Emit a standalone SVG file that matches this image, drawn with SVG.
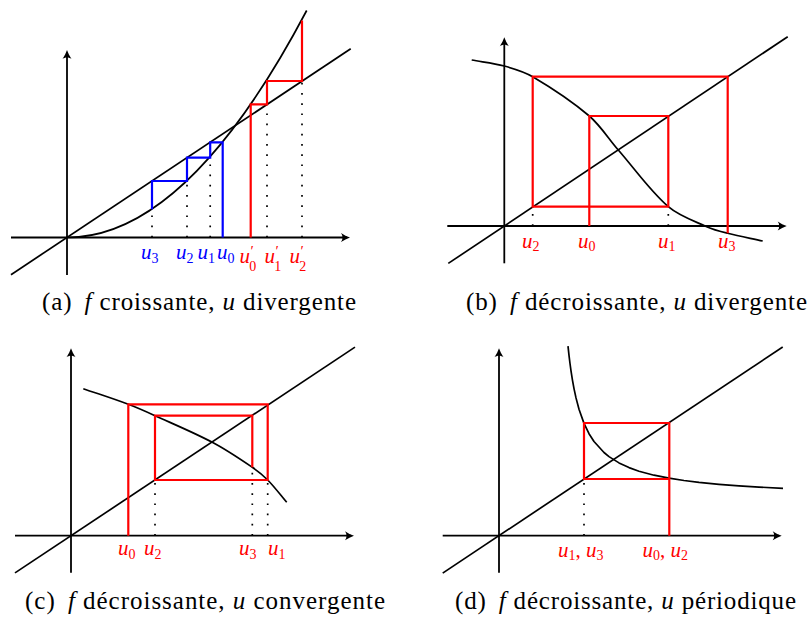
<svg xmlns="http://www.w3.org/2000/svg" width="810" height="617" viewBox="0 0 810 617">
<defs>
<marker id="arr" viewBox="-10 -5 11 10" refX="-3" refY="0" markerWidth="11" markerHeight="10" markerUnits="userSpaceOnUse" orient="auto">
<path d="M0,0 C-3,-1 -6,-2.5 -9,-4.5 C-7,-2 -7,2 -9,4.5 C-6,2.5 -3,1 0,0 Z" fill="#000"/>
</marker>
<style>
.ax{stroke:#000;stroke-width:1.8;fill:none;marker-end:url(#arr)}
.ln{stroke:#000;stroke-width:1.7;fill:none;stroke-linejoin:round}
.rd{stroke:#f00;stroke-width:2.2;fill:none;stroke-linejoin:miter}
.bl{stroke:#00f;stroke-width:2.2;fill:none;stroke-linejoin:miter}
.dot{stroke:#000;stroke-width:1.7;fill:none;stroke-dasharray:1.7 8.5}
.lab{font-family:"Liberation Serif","Times New Roman",serif;font-style:italic;font-size:21px}
.sub{font-style:normal;font-size:14px}
.pr{font-style:normal;font-size:15px}
.r{fill:#f00}
.b{fill:#00f}
.cap{font-family:"Liberation Serif","Times New Roman",serif;font-size:25px;fill:#000}
.it{font-style:italic}
</style>
</defs>

<g id="panel-a">
<path class="ax" d="M11,237.5 H347"/>
<path class="ax" d="M67,275 V53"/>
<path class="ln" d="M11,274.7 L350.7,48.8"/>
<path class="ln" d="M67,237.5 Q186.85,237.5 306.7,10.5"/>
<path class="dot" d="M152,237.5 V209.3 M187,237.5 V181 M210.2,237.5 V157.7 M267,237.5 V104.3 M302,237.5 V81"/>
<path class="bl" d="M222.7,237.5 V142.3 H210.2 V157.7 H187 V181 H152 V209.3"/>
<path class="rd" d="M250.7,237.5 V104.3 H267 V81 H302 V20.5"/>
<text class="lab b" x="141" y="259">u<tspan class="sub" dy="3.5">3</tspan></text>
<text class="lab b" x="176" y="259">u<tspan class="sub" dy="3.5">2</tspan></text>
<text class="lab b" x="197.5" y="259">u<tspan class="sub" dy="3.5">1</tspan></text>
<text class="lab b" x="217" y="259">u<tspan class="sub" dy="3.5">0</tspan></text>
<text class="lab r" x="239.5" y="263">u<tspan class="pr" dx="0.5" dy="-7">′</tspan><tspan class="sub" dx="-4.5" dy="15">0</tspan></text>
<text class="lab r" x="264.5" y="263">u<tspan class="pr" dx="0.5" dy="-7">′</tspan><tspan class="sub" dx="-4.5" dy="15">1</tspan></text>
<text class="lab r" x="289.5" y="263">u<tspan class="pr" dx="0.5" dy="-7">′</tspan><tspan class="sub" dx="-4.5" dy="15">2</tspan></text>
<text class="cap" x="42" y="310" textLength="314" lengthAdjust="spacing">(a) <tspan class="it" dx="5">f</tspan> croissante, <tspan class="it">u</tspan> divergente</text>
</g>

<g id="panel-b">
<path class="ax" d="M447.3,226 H783.7"/>
<path class="ax" d="M504.3,263.3 V40.3"/>
<path class="ln" d="M448.3,263.4 L787.7,36.7"/>
<path class="ln" d="M471.7,60 C482.6,62 493.7,63.1 504.3,66 C514,68.7 524,71.6 532.7,76.7 C552.4,88.3 572,101.2 589.3,116 C600.5,125.6 608.5,138.8 618.3,150 C634.9,169 649.6,190.4 668.3,206.7 C679,216 693.6,220.8 706.7,226.7 C713.4,229.7 720.6,231.5 727.7,233.3 C739.3,236.2 751,238.4 762.7,241"/>
<path class="dot" d="M532.7,226 V206.7 M668.3,226 V206.7"/>
<path class="rd" d="M589.3,226 V116 H668.3 V206.7 H532.7 V76.7 H727.7 V233.3"/>
<text class="lab r" x="522" y="247.5">u<tspan class="sub" dy="3.5">2</tspan></text>
<text class="lab r" x="578" y="247.5">u<tspan class="sub" dy="3.5">0</tspan></text>
<text class="lab r" x="658" y="247.5">u<tspan class="sub" dy="3.5">1</tspan></text>
<text class="lab r" x="718" y="247.5">u<tspan class="sub" dy="3.5">3</tspan></text>
<text class="cap" x="466" y="310" textLength="341" lengthAdjust="spacing">(b) <tspan class="it" dx="5">f</tspan> décroissante, <tspan class="it">u</tspan> divergente</text>
</g>

<g id="panel-c">
<path class="ax" d="M15,535.7 H351"/>
<path class="ax" d="M71,572.7 V351.3"/>
<path class="ln" d="M15,572.9 L355,347.1"/>
<path class="ln" d="M83.3,388.7 C98.3,393.9 113.45,398.7 128.3,404.3 C137.35,407.7 146.2,411.7 155,415.7 C174.2,424.4 193.7,432.5 212.3,442.3 C226.2,449.6 239.3,458.5 252.3,467.3 C257.8,471 263,475.3 267.7,480 C274.5,486.9 280.4,494.9 286.7,502.3"/>
<path class="dot" d="M155,535.7 V480 M252.3,535.7 V467.3 M267.7,535.7 V480"/>
<path class="rd" d="M128.3,535.7 V404.3 H267.7 V480 H155 V415.7 H252.3 V467.3"/>
<text class="lab r" x="118" y="555">u<tspan class="sub" dy="3.5">0</tspan></text>
<text class="lab r" x="144" y="555">u<tspan class="sub" dy="3.5">2</tspan></text>
<text class="lab r" x="239" y="555">u<tspan class="sub" dy="3.5">3</tspan></text>
<text class="lab r" x="268" y="555">u<tspan class="sub" dy="3.5">1</tspan></text>
<text class="cap" x="25" y="609" textLength="360" lengthAdjust="spacing">(c) <tspan class="it" dx="5">f</tspan> décroissante, <tspan class="it">u</tspan> convergente</text>
</g>

<g id="panel-d">
<path class="ax" d="M442.7,535.7 H778.7"/>
<path class="ax" d="M499,572.7 V351.3"/>
<path class="ln" d="M442.7,573.1 L782.7,347"/>
<path class="ln" d="M568,346.2 L569,355.4 L570,363.5 L571,370.8 L572.5,380.3 L574,388.6 L576,397.9 L579,409.2 L584,423.4 L589,433.7 L594,441.5 L604,452.5 L609,456.6 L619,462.9 L629,467.6 L639,471.2 L654,475.2 L669,478.2 L684,480.5 L699,482.4 L719,484.3 L739,485.9 L759,487.1 L783,488.3"/>
<path class="dot" d="M584,535.7 V479"/>
<path class="rd" d="M669.3,535.7 V479 H584 V423 H669.3 V479"/>
<text class="lab r" x="558" y="556.7">u<tspan class="sub" dy="3.5">1</tspan><tspan dy="-3.5" font-style="normal">, </tspan>u<tspan class="sub" dy="3.5">3</tspan></text>
<text class="lab r" x="642.5" y="556.7">u<tspan class="sub" dy="3.5">0</tspan><tspan dy="-3.5" font-style="normal">, </tspan>u<tspan class="sub" dy="3.5">2</tspan></text>
<text class="cap" x="455" y="609" textLength="341" lengthAdjust="spacing">(d) <tspan class="it" dx="5">f</tspan> décroissante, <tspan class="it">u</tspan> périodique</text>
</g>
</svg>
